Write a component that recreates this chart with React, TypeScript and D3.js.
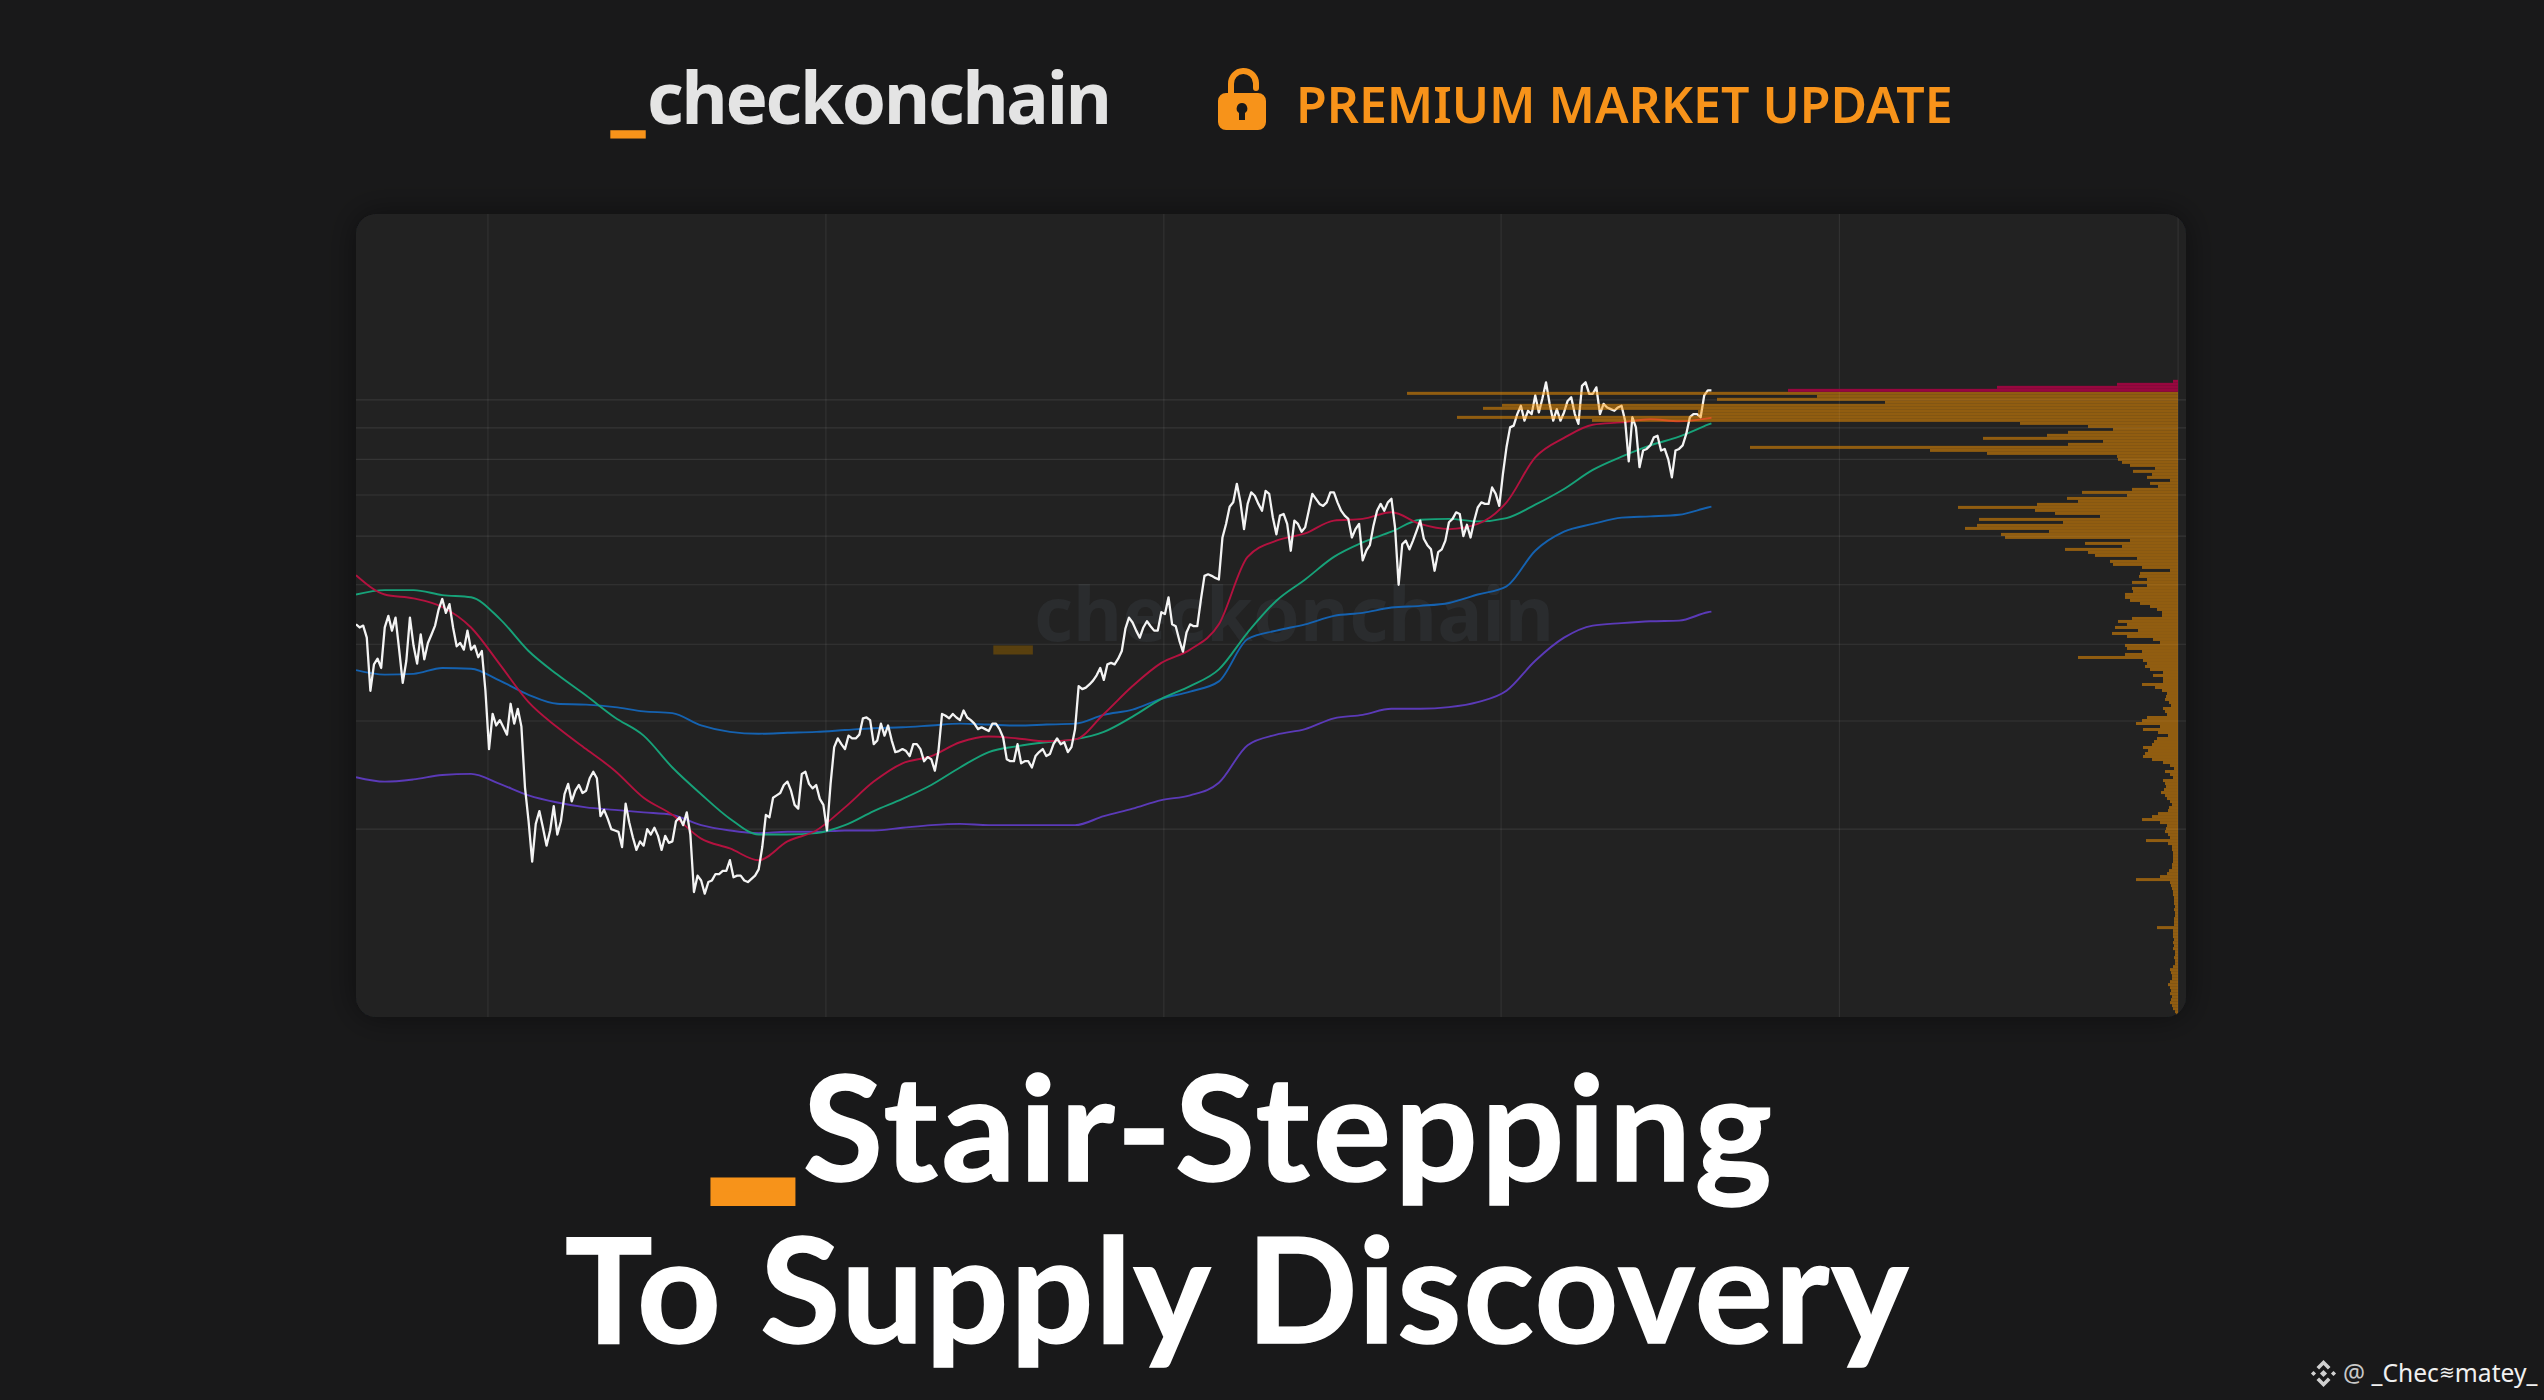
import React from 'react';
import * as d3 from 'd3';

// price in $k, one reading per step along the x axis
const priceValues = [
  43.1, 42.6, 42.9, 41.0, 33.6, 37.1, 37.9, 36.6, 42.6, 44.5,
  42.1, 44.2, 39.2, 34.6, 37.6, 44.2, 39.8, 37.2, 41.5, 37.8,
  40.2, 41.5, 42.9, 45.6, 47.4, 45.0, 46.5, 42.6, 39.7, 40.2,
  39.2, 42.1, 39.2, 39.8, 38.1, 39.0, 33.6, 27.0, 30.8, 29.5,
  30.1, 29.3, 28.5, 32.0, 29.7, 31.4, 29.4, 23.4, 20.6, 17.7,
  20.4, 21.4, 20.1, 18.8, 19.9, 21.8, 19.6, 20.6, 22.8, 23.7,
  22.2, 23.1, 23.6, 22.9, 23.1, 24.2, 24.8, 24.2, 21.0, 21.5,
  20.8, 20.0, 19.9, 19.8, 18.7, 22.0, 20.5, 19.4, 18.5, 19.1,
  18.8, 20.0, 19.6, 20.1, 19.5, 18.5, 19.5, 19.0, 19.1, 20.6,
  20.9, 20.3, 21.3, 19.6, 15.8, 16.8, 16.5, 15.7, 16.4, 16.5,
  16.9, 16.9, 17.1, 17.1, 17.8, 16.7, 16.8, 16.8, 16.5, 16.4,
  16.6, 16.8, 17.2, 18.7, 21.1, 20.9, 22.5, 22.7, 22.9, 23.6,
  23.9, 23.1, 21.9, 21.6, 24.6, 24.8, 23.7, 23.3, 23.6, 22.4,
  21.9, 19.9, 23.7, 27.2, 28.1, 27.5, 27.0, 28.4, 28.1, 28.1,
  28.5, 30.3, 30.4, 30.1, 27.5, 27.9, 29.7, 28.4, 29.5, 27.9,
  26.7, 26.8, 27.0, 26.8, 26.3, 27.5, 27.5, 27.0, 25.8, 26.2,
  26.0, 24.9, 26.8, 30.8, 30.6, 30.3, 30.8, 30.4, 30.1, 31.2,
  30.4, 30.1, 29.7, 29.1, 29.3, 29.1, 28.9, 29.7, 29.7, 29.1,
  28.2, 26.0, 25.8, 25.8, 27.5, 25.6, 25.8, 25.8, 25.2, 26.3,
  26.7, 27.0, 26.3, 26.5, 27.5, 28.1, 27.5, 27.7, 26.7, 27.2,
  29.1, 34.2, 33.8, 34.0, 34.4, 34.9, 35.6, 36.6, 35.0, 37.1,
  37.3, 37.1, 37.9, 39.0, 42.4, 44.2, 43.4, 42.1, 41.0, 42.6,
  43.6, 42.8, 42.1, 42.1, 45.1, 44.8, 47.7, 43.1, 42.8, 40.6,
  38.9, 41.8, 43.1, 42.8, 42.8, 47.3, 51.7, 52.0, 51.7, 51.3,
  51.0, 59.7, 62.8, 67.0, 68.1, 73.0, 68.1, 61.6, 67.7, 70.7,
  69.8, 67.7, 66.0, 71.1, 70.3, 64.4, 60.4, 64.8, 65.2, 62.8,
  56.8, 63.6, 62.8, 61.0, 62.0, 66.0, 70.3, 69.0, 67.7, 67.2,
  68.1, 70.7, 70.7, 68.1, 66.0, 64.8, 64.0, 59.7, 61.6, 62.8,
  54.8, 56.8, 58.0, 62.4, 66.0, 67.7, 66.0, 68.1, 69.0, 62.0,
  50.0, 58.2, 59.0, 57.1, 59.0, 61.2, 63.6, 59.4, 58.0, 57.1,
  52.7, 56.5, 57.1, 59.0, 63.2, 64.0, 65.6, 65.2, 60.0, 62.6,
  59.7, 63.5, 66.8, 68.1, 67.7, 67.7, 72.0, 70.3, 67.2, 75.7,
  83.7, 90.2, 90.8, 94.8, 97.8, 92.5, 96.0, 94.8, 101.7, 95.4,
  100.6, 106.8, 98.5, 92.5, 96.6, 92.5, 95.4, 99.6, 101.0, 94.8,
  91.4, 105.4, 106.8, 102.3, 102.3, 104.8, 94.8, 98.5, 97.2, 96.6,
  96.0, 97.2, 97.8, 92.5, 79.4, 93.7, 90.2, 77.7, 82.7, 83.2,
  84.3, 86.9, 87.4, 82.7, 83.2, 80.0, 74.8, 82.7, 83.2, 84.3,
  88.0, 93.7, 94.8, 94.8, 93.7, 101.7, 103.6, 103.6,
];

// averages share these x positions
const maSteps = [
  0, 8, 16, 24, 32, 40, 48, 56, 64, 72, 80, 88, 96, 104, 112, 120, 128, 136, 144, 152, 160, 168, 176, 184, 192,
  200, 208, 216, 224, 232, 240, 248, 256, 264, 272, 280, 288, 296, 304, 312, 320, 328, 336, 344, 352, 360, 368, 376, 377,
];
const shortMa = [
  51.8, 48.2, 47.5, 46, 42.6, 37.1, 32.2, 29.3, 27, 24.9, 22.5, 21.1, 19.3, 18.6, 17.8, 19.1, 19.9, 21.7, 23.9, 25.6,
  26.3, 27.7, 28.3, 28.1, 27.8, 28, 30.8, 34.2, 37.3, 39.2, 43.1, 55.5, 59, 60.6, 63.6, 64, 65.6, 62.8, 61.6, 62.8,
  68.1, 80.6, 86.7, 91.1, 91.9, 93, 92.3, 93.3, 93.5,
];
const longMa = [
  48.2, 49, 49, 48.1, 47.7, 44, 39, 35.7, 33, 30.4, 28.4, 25.2, 22.8, 20.8, 19.6, 19.6, 19.7, 20.3, 21.4, 22.4,
  23.6, 25.2, 26.7, 27.3, 27.7, 28, 28.8, 30.5, 32.6, 34.2, 36.4, 41.8, 47.1, 51, 55.5, 58.6, 61, 63.8, 64, 63.4,
  64.2, 67.5, 71.6, 76.9, 80.8, 84.3, 87.1, 91.1, 91.6,
];
const realizedUpper = [
  36.3, 35.7, 35.8, 36.6, 36.5, 34.9, 33.1, 32, 31.9, 31.6, 31.1, 30.9, 29.5, 28.8, 28.6, 28.7, 28.8, 29, 29.2, 29.3,
  29.5, 29.7, 29.6, 29.5, 29.6, 29.7, 30.7, 31.3, 32.6, 33.5, 34.8, 40.8, 42.1, 43.1, 44.5, 45, 45.9, 46.2, 46.7, 48.2,
  49.7, 56.8, 61, 62.8, 64.3, 64.6, 65, 66.8, 67,
];
const realizedLower = [
  24.3, 23.9, 24.1, 24.5, 24.6, 23.7, 22.7, 22.1, 21.7, 21.5, 21.3, 21.1, 20.3, 19.9, 19.7, 19.8, 19.8, 19.9, 19.9, 20.1,
  20.3, 20.4, 20.3, 20.3, 20.3, 20.3, 21, 21.6, 22.3, 22.7, 23.8, 27.4, 28.5, 29.1, 30.3, 30.7, 31.4, 31.4, 31.6, 32.2,
  33.6, 37.6, 41, 42.9, 43.3, 43.6, 43.7, 45.1, 45.2,
];

// supply by price level, top row first; the red rows sit above the orange ones
const supplyAbove = [5, 61, 181, 390];
const supplyRows = [
  771, 361, 461, 293, 676, 695, 480, 480, 721, 586,
  158, 90, 65, 110, 131, 195, 75, 110, 428, 248,
  191, 61, 60, 56, 48, 23, 45, 26, 31, 8,
  28, 20, 46, 96, 51, 111, 100, 141, 220, 143,
  123, 78, 199, 115, 201, 213, 129, 177, 173, 48,
  93, 56, 113, 90, 83, 41, 68, 65, 36, 8,
  38, 39, 31, 46, 31, 46, 45, 53, 53, 48,
  38, 28, 21, 16, 16, 46, 60, 51, 63, 40,
  66, 51, 25, 18, 53, 51, 36, 53, 100, 35,
  31, 33, 28, 15, 25, 15, 15, 36, 23, 16,
  11, 12, 13, 9, 7, 15, 13, 11, 31, 36,
  42, 18, 35, 20, 10, 21, 24, 26, 35, 30,
  33, 35, 26, 15, 8, 4, 13, 8, 5, 15,
  13, 12, 14, 17, 13, 11, 8, 6, 9, 10,
  20, 26, 36, 18, 11, 12, 13, 10, 8, 32,
  10, 6, 6, 5, 5, 5, 5, 6, 6, 9,
  11, 18, 42, 8, 7, 6, 5, 5, 4, 4,
  4, 3, 4, 3, 3, 4, 4, 4, 21, 5,
  5, 5, 4, 5, 4, 5, 3, 3, 4, 3,
  3, 5, 8, 7, 6, 6, 8, 10, 8, 7,
  8, 6, 7, 8, 6, 5, 3, 2,
];

const priceTicks = [20, 30, 40, 50, 60, 70, 80, 90, 100];
const stepTicks = [36.7, 130.7, 224.7, 318.5, 412.6, 506.8];

const ORANGE = '#f7931a';
const panel = { left: 356, top: 214, right: 2186, bottom: 1017 };

const App = () => {
  const x = d3.scaleLinear().domain([0, 509]).range([panel.left, panel.right]);
  const y = d3.scaleLog().domain([10, 200]).range([1014, 215]);

  const profileX = d3.scaleLinear().domain([0, 771]).range([2178, 1407]);
  const rowKeys = d3.range(supplyAbove.length + supplyRows.length);
  const rowY = d3.scaleBand<number>().domain(rowKeys).range([y(107.8), y(9.92)]);

  const maLine = d3
    .line<number>()
    .x((_, i) => x(maSteps[i]))
    .y((d) => y(d))
    .curve(d3.curveMonotoneX);
  const priceLine = d3
    .line<number>()
    .x((_, i) => x(i))
    .y((d) => y(d));

  const maSeries = [
    { name: 'lower', values: realizedLower, color: '#5b3ab8' },
    { name: 'upper', values: realizedUpper, color: '#1562b0' },
    { name: 'long', values: longMa, color: '#17a279' },
    { name: 'short', values: shortMa, color: '#b3123f' },
  ];

  return (
    <svg
      width={2544}
      height={1400}
      style={{ position: 'fixed', left: 0, top: 0, display: 'block', background: '#19191a' }}
    >
      <defs>
        <filter id="panelShadow" x="-5%" y="-10%" width="110%" height="120%">
          <feDropShadow dx="0" dy="0" stdDeviation="16" floodColor="#000" floodOpacity="0.45" />
        </filter>
        <clipPath id="panelClip">
          <rect x={panel.left} y={panel.top} width={panel.right - panel.left} height={panel.bottom - panel.top} rx={20} />
        </clipPath>
      </defs>

      {/* header */}
      <text y={124} fontFamily="'Noto Sans'" fontWeight={700} fontSize={71} fill="#e4e4e4" letterSpacing={-2.2}>
        <tspan x={612} y={125} fontSize={78} fill={ORANGE} stroke={ORANGE} strokeWidth={3}>_</tspan>
        <tspan x={647} y={124}>checkonchain</tspan>
      </text>
      <g fill={ORANGE}>
        <path
          d="M1231 96 V84 a12 12 0 0 1 25 -1 V88"
          fill="none"
          stroke={ORANGE}
          strokeWidth={6}
          strokeLinecap="round"
        />
        <path
          fillRule="evenodd"
          d="M1226 93 H1258 a8 8 0 0 1 8 8 V122 a8 8 0 0 1 -8 8 H1226 a8 8 0 0 1 -8 -8 V101 a8 8 0 0 1 8 -8 Z M1242 103 a5.5 5.5 0 0 0 -3 10 V120 h6 V113 a5.5 5.5 0 0 0 -3 -10 Z"
        />
      </g>
      <text x={1296} y={123} fontFamily="'Noto Sans'" fontWeight={600} fontSize={50} fill={ORANGE}>
        PREMIUM MARKET UPDATE
      </text>

      {/* chart panel */}
      <rect
        x={panel.left}
        y={panel.top}
        width={panel.right - panel.left}
        height={panel.bottom - panel.top}
        rx={20}
        fill="#212324"
        filter="url(#panelShadow)"
      />
      <g clipPath="url(#panelClip)">
        <text fontFamily="'Noto Sans'" fontWeight={700} fontSize={75.5} fill="#2a2c2e">
          <tspan x={995} y={639} fontSize={88} fill="#59400f" stroke="#59400f" strokeWidth={3}>_</tspan>
          <tspan x={1034} y={641}>checkonchain</tspan>
        </text>

        {priceTicks.map((t) => (
          <line key={t} x1={panel.left} x2={panel.right} y1={y(t)} y2={y(t)} stroke="#fff" strokeOpacity={0.09} strokeWidth={1.2} />
        ))}
        {stepTicks.map((t) => (
          <line key={t} x1={x(t)} x2={x(t)} y1={panel.top} y2={panel.bottom} stroke="#fff" strokeOpacity={0.07} strokeWidth={1.2} />
        ))}

        {maSeries.map((s) => (
          <path key={s.name} d={maLine(s.values) || ''} fill="none" stroke={s.color} strokeWidth={1.9} />
        ))}
        <path d={priceLine(priceValues) || ''} fill="none" stroke="#f4f4f4" strokeWidth={2.3} strokeLinejoin="round" />

        {/* supply profile goes over the lines, so they tint where they cross */}
        <g opacity={0.5}>
          {supplyRows.map((d, i) => (
            <rect
              key={i}
              x={profileX(d)}
              y={rowY(i + supplyAbove.length)}
              width={profileX(0) - profileX(d)}
              height={rowY.bandwidth()}
              fill="#ff9800"
            />
          ))}
        </g>
        {supplyAbove.map((d, i) => (
          <rect
            key={i}
            x={profileX(d)}
            y={rowY(i)}
            width={profileX(0) - profileX(d)}
            height={rowY.bandwidth()}
            fill="#98073f"
          />
        ))}
      </g>

      {/* title */}
      <g fontFamily="Lato" fontWeight={700} fontSize={146} fill="#ffffff" stroke="#ffffff" strokeWidth={1.6}>
        <text>
          <tspan x={711} y={1172} fontSize={180} fill={ORANGE} stroke={ORANGE} strokeWidth={14}>_</tspan>
          <tspan x={803} y={1181} letterSpacing={3.7}>Stair-Stepping</tspan>
        </text>
        <text x={565} y={1343} letterSpacing={2}>To Supply Discovery</text>
      </g>

      {/* handle */}
      <g fill="#d0d0d0" transform="translate(2323.5,1373.5)">
        <path d="M0 -13.5 L7 -6.5 L4.4 -4 L0 -8.4 L-4.4 -4 L-7 -6.5 Z" />
        <path d="M0 13.5 L7 6.5 L4.4 4 L0 8.4 L-4.4 4 L-7 6.5 Z" />
        <path d="M0 -3.6 L3.6 0 L0 3.6 L-3.6 0 Z" />
        <path d="M-10 -2.6 L-7.4 0 L-10 2.6 L-12.6 0 Z" />
        <path d="M10 -2.6 L12.6 0 L10 2.6 L7.4 0 Z" />
      </g>
      <text x={2343} y={1382} fontFamily="'Noto Sans'" fontSize={24.6} fill="#f0f0f0">
        <tspan fill="#c8c8c8">@</tspan> _Chec<tspan fontSize={19} dy={-3}>≋</tspan>
        <tspan dy={3}>matey_</tspan>
      </text>
    </svg>
  );
};

export default App;
